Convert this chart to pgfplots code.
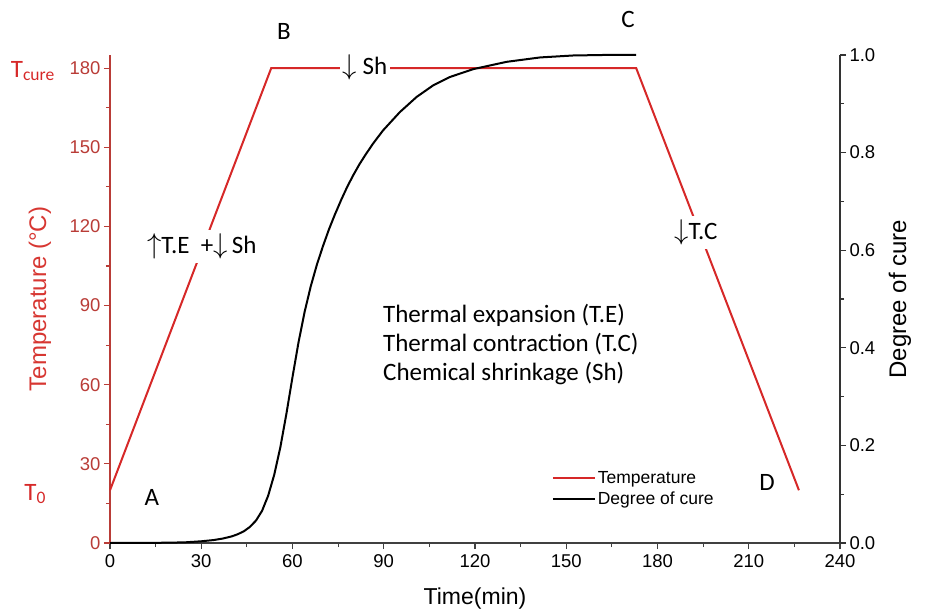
\documentclass[border=0pt]{standalone}
\usepackage{fontspec}
\setmainfont{Carlito}
\newfontfamily\arial{Liberation Sans}
\usepackage{pgfplots}
\pgfplotsset{compat=1.18}
\definecolor{tred}{RGB}{214,40,40}
\definecolor{axred}{RGB}{185,60,55}
\definecolor{labred}{RGB}{215,55,50}
\newcommand{\tfont}{\arial\fontsize{18.5}{18.5}\selectfont}
\newcommand{\afont}{\fontsize{25}{25}\selectfont}
\begin{document}
\begin{tikzpicture}
\path[use as bounding box] (-110pt,-70pt) rectangle (818pt,543pt);
\begin{axis}[
  at={(0pt,0pt)}, anchor=south west,
  scale only axis, width=730pt, height=488pt,
  xmin=0, xmax=240, ymin=0, ymax=185,
  axis x line=bottom, axis y line=left,
  axis line style={-, line width=1.2pt},
  x axis line style={black!75},
  y axis line style={axred},
  xtick={0,30,...,240}, ytick={0,30,...,180},
  minor x tick num=1, minor y tick num=1,
  tick align=outside,
  major tick length=6pt, minor tick length=4pt,
  tick style={line width=1.2pt},
  x tick style={black!75},
  y tick style={axred},
  xticklabel={\tfont\pgfmathprintnumber[assume math mode=true]{\tick}},
  yticklabel={\tfont\pgfmathprintnumber[assume math mode=true]{\tick}},
  xticklabel style={yshift=-2pt},
  yticklabel style={text=axred},
  xlabel={Time(min)}, ylabel={Temperature (°C)},
  every axis x label/.style={at={(axis description cs:0.5,-0.113)},anchor=center,font=\arial\fontsize{23}{23}\selectfont},
  every axis y label/.style={at={(axis description cs:-0.096,0.5)},rotate=90,anchor=center,font=\arial\fontsize{24}{24}\selectfont,text=labred},
  clip=false,
]
\addplot[tred, line width=2pt] coordinates {(0,20) (53,180) (173,180) (226.5,20)};
\node[font=\afont] at (axis cs:57.2,194) {B};
\node[font=\afont] at (axis cs:170.3,198.6) {C};
\node[font=\afont] at (axis cs:13.8,17.4) {A};
\node[font=\afont] at (axis cs:216,23) {D};
\node[fill=white, inner sep=3pt, font=\afont] at (axis cs:83.8,180.5) {\scalebox{1.15}{$\downarrow$} Sh};
\node[fill=white, inner sep=4pt, font=\afont] at (axis cs:30.2,112.5) {\scalebox{1.15}{$\uparrow$}T.E\ \ +\scalebox{1.15}{$\downarrow$}\,Sh};
\node[fill=white, inner sep=4pt, font=\afont] at (axis cs:192.6,117.8) {\scalebox{1.15}{$\downarrow$}T.C};
\node[anchor=west, align=left, inner sep=0pt, font=\fontsize{25}{29}\selectfont] at (axis cs:89.75,75.4) {Thermal expansion (T.E)\\Thermal contraction (T.C)\\Chemical shrinkage (Sh)};
\node[anchor=base east, inner sep=0pt, text=tred, font=\afont] at (axis cs:-18.1,176.6) {T\textsubscript{cure}};
\node[anchor=base east, inner sep=0pt, text=tred, font=\afont] at (axis cs:-21.0,16.3) {T\textsubscript{0}};
\end{axis}
\begin{axis}[
  at={(0pt,0pt)}, anchor=south west,
  scale only axis, width=730pt, height=488pt,
  xmin=0, xmax=240, ymin=0, ymax=1,
  axis x line=none, axis y line=right,
  axis line style={-, line width=1.2pt, black!80},
  ytick={0,0.2,0.4,0.6,0.8,1.0}, minor y tick num=1,
  tick align=outside,
  major tick length=6pt, minor tick length=4pt,
  tick style={line width=1.2pt, black!80},
  yticklabel={\tfont\pgfmathprintnumber[fixed,fixed zerofill,precision=1,assume math mode=true]{\tick}},
  ylabel={Degree of cure},
  every axis y label/.style={at={(axis description cs:1.082,0.5)},rotate=90,anchor=center,font=\arial\fontsize{24}{24}\selectfont},
  legend style={at={(axis description cs:0.605,0.152)}, anchor=north west, draw=none, fill=none, inner sep=0pt, font=\arial\fontsize{17.5}{17.5}\selectfont, row sep=3pt},
  legend cell align=left,
  legend image code/.code={\draw[#1] (0pt,0pt) -- (42pt,0pt);},
  clip=false,
]
\addlegendimage{tred, line width=2pt}
\addlegendentry{Temperature}
\addplot[black, line width=2pt] coordinates {
(0,0) (10,0.0001) (20,0.0007) (25,0.0015) (30,0.0035) (34,0.006) (37,0.009) (40,0.0135) (42,0.018) (44,0.024) (46,0.033) (48,0.046) (50,0.066) (52,0.097) (54,0.140) (56,0.196) (58,0.265) (60,0.340) (62,0.412) (64,0.474) (66,0.526) (68,0.570) (70,0.608) (72,0.643) (74,0.674) (76,0.703) (78,0.730) (80,0.754) (82,0.776) (84,0.7956) (86.5,0.8186) (89.8,0.8457) (95.3,0.883) (100.8,0.914) (106.3,0.938) (111.8,0.955) (119.4,0.971) (130.4,0.986) (141.4,0.995) (152.3,0.999) (162,1.0) (173,1.0)
};
\addlegendentry{Degree of cure}
\end{axis}
\end{tikzpicture}
\end{document}
